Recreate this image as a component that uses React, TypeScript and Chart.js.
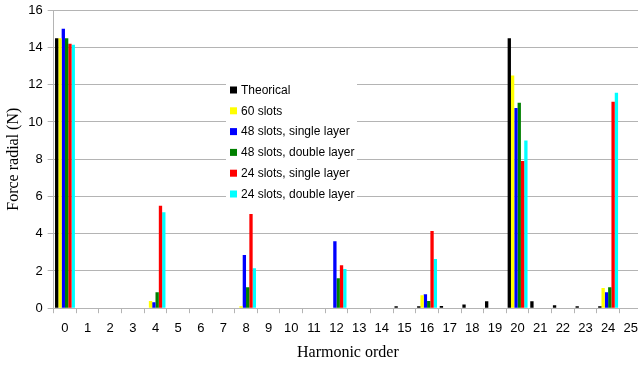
import React, { useEffect, useRef } from "react";
import { Chart, registerables } from "chart.js";

Chart.register(...registerables);

const categories = ["0","1","2","3","4","5","6","7","8","9","10","11","12","13","14","15","16","17","18","19","20","21","22","23","24","25"];

const theorical = [14.5,0,0,0,0,0,0,0,0,0,0,0,0,0,0,0.1,0.1,0.12,0.2,0.37,14.5,0.37,0.16,0.1,0.1,0];
const slots60 = [14.5,0,0,0,0.38,0,0,0,0.1,0,0,0,0,0,0,0,0.7,0,0,0,12.5,0,0,0,1.08,0];
const slots48Single = [15.0,0,0,0,0.32,0,0,0,2.85,0,0,0,3.6,0,0,0,0.75,0,0,0,10.75,0,0,0,0.86,0];
const slots48Double = [14.5,0,0,0,0.86,0,0,0,1.13,0,0,0,1.61,0,0,0,0.38,0,0,0,11.03,0,0,0,1.13,0];
const slots24Single = [14.2,0,0,0,5.5,0,0,0,5.06,0,0,0,2.31,0,0,0,4.14,0,0,0,7.9,0,0,0,11.08,0];
const slots24Double = [14.15,0,0,0,5.15,0,0,0,2.15,0,0,0,2.1,0,0,0,2.64,0,0,0,9.0,0,0,0,11.57,0];

const seriesLabels = ["Theorical","60 slots","48 slots, single layer","48 slots, double layer","24 slots, single layer","24 slots, double layer"];
const seriesColors = ["#000000","#ffff00","#0000ff","#008000","#ff0000","#00ffff"];

const yTitle = "Force radial (N)";
const xTitle = "Harmonic order";

const gridColor = "#b4b4b4";

const legendPlugin = {
  id: "insideLegend",
  afterDraw(chart: any) {
    const ctx = chart.ctx;
    ctx.save();
    ctx.fillStyle = "#ffffff";
    ctx.fillRect(226, 79, 131, 124);
    ctx.font = "12px 'Liberation Sans', Arial, sans-serif";
    ctx.textBaseline = "middle";
    ctx.textAlign = "left";
    chart.data.datasets.forEach((ds: any, i: number) => {
      const cy = 90 + i * 20.8;
      ctx.fillStyle = ds.backgroundColor;
      ctx.fillRect(230, cy - 3.5, 7, 7);
      ctx.fillStyle = "#000000";
      ctx.fillText(ds.label, 241, cy + 0.5);
    });
    ctx.restore();
  },
};

export default function App() {
  const canvasRef = useRef<HTMLCanvasElement | null>(null);

  useEffect(() => {
    if (!canvasRef.current) return;
    const seriesData = [theorical, slots60, slots48Single, slots48Double, slots24Single, slots24Double];
    const chart = new Chart(canvasRef.current, {
      type: "bar",
      data: {
        labels: categories,
        datasets: seriesData.map((d, i) => ({
          label: seriesLabels[i],
          data: d,
          backgroundColor: seriesColors[i],
          borderWidth: 0,
          categoryPercentage: 0.88,
          barPercentage: 1,
        })),
      },
      options: {
        responsive: false,
        animation: false,
        layout: { padding: { top: 0, right: 1, left: 0, bottom: 0 } },
        plugins: {
          legend: { display: false },
          tooltip: { enabled: false },
        },
        scales: {
          x: {
            grid: {
              offset: true,
              drawOnChartArea: false,
              tickLength: 5,
              color: gridColor,
            },
            border: { color: gridColor },
            ticks: {
              autoSkip: false,
              maxRotation: 0,
              padding: 7,
              color: "#000000",
              font: { family: "'Liberation Sans', Arial, sans-serif", size: 13 },
            },
            title: {
              display: true,
              text: xTitle,
              color: "#000000",
              padding: { top: 0, bottom: 8 },
              font: { family: "'Liberation Serif', 'Times New Roman', serif", size: 16 },
            },
          },
          y: {
            min: 0,
            max: 16,
            grid: { color: gridColor, tickLength: 6 },
            border: { color: gridColor },
            ticks: {
              stepSize: 2,
              padding: 5,
              color: "#000000",
              font: { family: "'Liberation Sans', Arial, sans-serif", size: 13, lineHeight: 0.8 },
            },
            title: {
              display: true,
              text: yTitle,
              color: "#000000",
              padding: { top: 4, bottom: 0 },
              font: { family: "'Liberation Serif', 'Times New Roman', serif", size: 16 },
            },
          },
        },
      },
      plugins: [legendPlugin],
    });
    return () => chart.destroy();
  }, []);

  return (
    <div style={{ position: "fixed", left: 0, top: 0, width: 638, height: 370, overflow: "hidden", background: "#ffffff" }}>
      <canvas ref={canvasRef} width={645} height={370} style={{ width: 645, height: 370, display: "block" }} />
    </div>
  );
}
